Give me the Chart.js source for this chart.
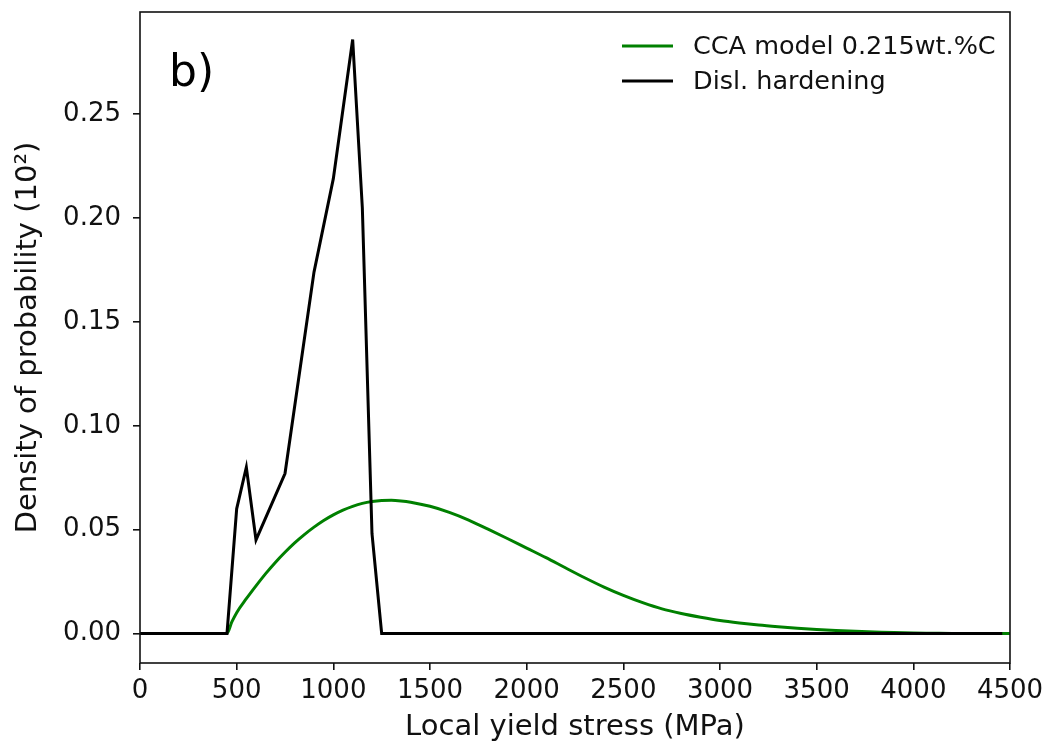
<!DOCTYPE html>
<html>
<head>
<meta charset="utf-8">
<script src="https://cdn.jsdelivr.net/npm/chart.js@4.4.1/dist/chart.umd.min.js"></script>
<style>
  html, body { margin: 0; padding: 0; background: #ffffff; }
  #wrap { width: 1051px; height: 746px; position: relative; }
</style>
</head>
<body>
<div id="wrap"><canvas id="c" width="1051" height="746"></canvas></div>
<script>
// ---- data ----
const ccaX = [0, 450, 475, 500, 550, 600, 650, 700, 750, 800, 850, 900, 950, 1000, 1050, 1100, 1150, 1200, 1250, 1300,
  1350, 1400, 1500, 1600, 1700, 1800, 1900, 2000, 2100, 2200, 2300, 2400, 2500, 2600, 2700, 2800, 2900, 3000,
  3100, 3200, 3300, 3400, 3500, 3600, 3700, 3800, 3900, 4000, 4100, 4200, 4300, 4400, 4500, 4600];
const ccaY = [0, 0, 0.0055, 0.0100, 0.0167, 0.0229, 0.0288, 0.0342, 0.0391, 0.0436, 0.0476, 0.0512, 0.0544, 0.0571, 0.0594, 0.0612, 0.0626, 0.0635, 0.0640, 0.0641,
  0.0638, 0.0632, 0.0612, 0.0583, 0.0546, 0.0502, 0.0457, 0.0411, 0.0365, 0.0316, 0.0268, 0.0223, 0.0183, 0.0148, 0.0118, 0.0096, 0.0078, 0.0062,
  0.0050, 0.0040, 0.0032, 0.0025, 0.0019, 0.0014, 0.0010, 0.0007, 0.0004, 0.0002, 0.0001, 0, 0, 0, 0, 0];

const dislX = [0, 450, 500, 550, 600, 750, 900, 1000, 1100, 1150, 1200, 1250, 4460];
const dislY = [0, 0, 0.060, 0.080, 0.045, 0.077, 0.174, 0.219, 0.286, 0.205, 0.048, 0, 0];

const seriesLabels = ['CCA model 0.215wt.%C', 'Disl. hardening'];
const seriesColors = ['#008000', '#000000'];
const xTicks = [0, 500, 1000, 1500, 2000, 2500, 3000, 3500, 4000, 4500];
const yTicks = [0, 0.05, 0.10, 0.15, 0.20, 0.25];
const xRange = [0, 4500];
const yRange = [-0.01425, 0.29925];
const xTitle = 'Local yield stress (MPa)';
const yTitle = 'Density of probability (10\u00B2)';
const panelLabel = 'b)';

const FONT = "'DejaVu Sans', 'Liberation Sans', sans-serif";

function pts(xs, ys) { return xs.map((x, i) => ({ x: x, y: ys[i] })); }

const framePlugin = {
  id: 'frame',
  afterDatasetsDraw(chart) {
    const a = chart.chartArea, ctx = chart.ctx;
    ctx.save();
    ctx.strokeStyle = '#111';
    ctx.lineWidth = 1.6;
    ctx.strokeRect(a.left, a.top, a.right - a.left, a.bottom - a.top);
    ctx.restore();
  }
};

const annotPlugin = {
  id: 'annot',
  afterDraw(chart) {
    const ctx = chart.ctx;
    ctx.save();
    // panel label
    ctx.fillStyle = '#000';
    ctx.font = '44px ' + FONT;
    ctx.textAlign = 'left';
    ctx.textBaseline = 'alphabetic';
    ctx.fillText(panelLabel, 169, 86);
    // legend built from datasets
    const rows = [46, 81];
    ctx.font = '25.5px ' + FONT;
    ctx.textBaseline = 'middle';
    chart.data.datasets.forEach((ds, i) => {
      const y = rows[i];
      ctx.strokeStyle = ds.borderColor;
      ctx.lineWidth = 3;
      ctx.beginPath();
      ctx.moveTo(622, y);
      ctx.lineTo(673, y);
      ctx.stroke();
      ctx.fillStyle = '#111';
      ctx.fillText(ds.label, 693, y + 1);
    });
    ctx.restore();
  }
};

new Chart(document.getElementById('c'), {
  type: 'line',
  data: {
    datasets: [
      { label: seriesLabels[0], data: pts(ccaX, ccaY), borderColor: seriesColors[0], borderWidth: 3,
        pointRadius: 0, cubicInterpolationMode: 'monotone', order: 2, fill: false },
      { label: seriesLabels[1], data: pts(dislX, dislY), borderColor: seriesColors[1], borderWidth: 3,
        pointRadius: 0, tension: 0, order: 1, fill: false }
    ]
  },
  options: {
    responsive: false,
    animation: false,
    devicePixelRatio: 1,
    layout: { padding: { left: 0, top: 12, right: 41, bottom: 0 } },
    plugins: { legend: { display: false }, tooltip: { enabled: false } },
    scales: {
      x: {
        type: 'linear',
        min: xRange[0], max: xRange[1],
        afterBuildTicks(scale) { scale.ticks = xTicks.map(v => ({ value: v })); },
        afterFit(scale) { scale.height = 83; scale.paddingLeft = 0; scale.paddingRight = 0; },
        grid: { display: true, drawOnChartArea: false, drawTicks: true, tickLength: 7, color: '#111', lineWidth: 1.6 },
        border: { display: false },
        ticks: {
          padding: 6, maxRotation: 0, autoSkip: false, color: '#111',
          font: { family: FONT, size: 26 },
          callback: (v) => String(v)
        },
        title: { display: true, text: xTitle, color: '#111', font: { family: FONT, size: 29 }, padding: { top: 0, bottom: 1 } }
      },
      y: {
        type: 'linear',
        min: yRange[0], max: yRange[1],
        afterBuildTicks(scale) { scale.ticks = yTicks.map(v => ({ value: v })); },
        afterFit(scale) { scale.width = 140; scale.paddingTop = 0; scale.paddingBottom = 0; },
        grid: { display: true, drawOnChartArea: false, drawTicks: true, tickLength: 7, color: '#111', lineWidth: 1.6 },
        border: { display: false },
        ticks: {
          padding: 12, autoSkip: false, color: '#111',
          font: { family: FONT, size: 26 },
          callback: (v) => Number(v).toFixed(2)
        },
        title: { display: true, text: yTitle, color: '#111', font: { family: FONT, size: 29 }, padding: { top: 11, bottom: 0 } }
      }
    }
  },
  plugins: [framePlugin, annotPlugin]
});
</script>
</body>
</html>
